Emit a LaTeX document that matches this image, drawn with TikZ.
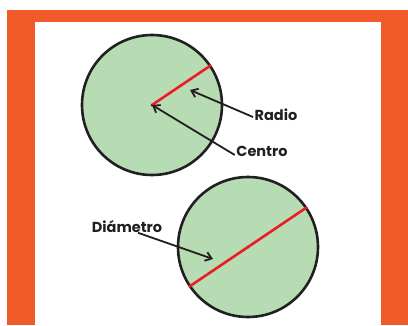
\documentclass[tikz,border=0pt]{standalone}
\usepackage{fontspec}
\setmainfont{Poppins}
\usetikzlibrary{arrows.meta}
\definecolor{frameorange}{HTML}{F15A29}
\definecolor{discgreen}{HTML}{B7DCB3}
\definecolor{segred}{HTML}{ED1C24}
\definecolor{inkblack}{HTML}{231F20}
\tikzset{disc/.style={circle,draw=inkblack,fill=discgreen,line width=2.6pt,minimum size=140pt,inner sep=0pt},
  lbl/.style={draw=none,inner sep=1.5pt,font=\bfseries\fontsize{14.5}{16}\selectfont,text=inkblack},
  pointer/.style={-{Straight Barb[length=6pt,width=9pt]},line width=1.8pt,inkblack},
  seg/.style={line width=2.6pt,segred}}

\begin{document}
\begin{tikzpicture}[x=1pt,y=-1pt]
\useasboundingbox (0,0) rectangle (408,325);
% frame
\fill[frameorange] (7,10) rectangle (408,325);
\fill[white] (35,22) rectangle (381,325);
% circles
\node (c1) [disc] at (152,105) {};
\node (c2) [disc] at (248,247) {};
\fill[inkblack] (c1.center) circle (1.5);
\fill[inkblack] (c2.center) circle (1.5);
% radius and diameter
\path[seg] (c1.center) edge (c1.34);
\path[seg] (c2.214) edge (c2.34);
% labels
\node (lradio) [lbl] at (276,115) {Radio};
\node (lcentro) [lbl] at (262,151) {Centro};
\node (ldiam) [lbl] at (127,227) {Diámetro};
\coordinate (tradio) at (190,90);
\coordinate (tdiam) at (213,259);
%
\path[pointer] ([yshift=-2pt]lradio.west) edge (tradio);
\path[pointer] ([yshift=-4pt]lcentro.west) edge (c1.center);
\path[pointer] ([xshift=11pt,yshift=2pt]ldiam.south) edge (tdiam);
\end{tikzpicture}
\end{document}
